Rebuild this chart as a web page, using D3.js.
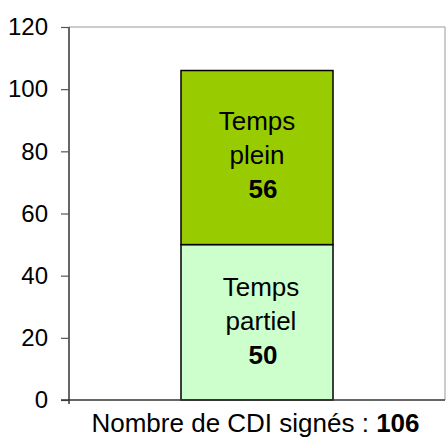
<!DOCTYPE html>
<html><head><meta charset="utf-8">
<script src="https://cdn.jsdelivr.net/npm/d3@7"></script>
<style>body{margin:0;background:#fff}svg{display:block;font-family:"Liberation Sans",Arial,sans-serif}</style>
</head><body>
<script>
const categories = ["Nombre de CDI signés"];
const seriesNames = ["Temps partiel", "Temps plein"];
const partiel = [50];
const plein = [56];
const totals = [106];
const yTicks = [0, 20, 40, 60, 80, 100, 120];
const colors = ["#CCFFCC", "#99CC00"];
const labelLines = [["Temps", "partiel"], ["Temps", "plein"]];

const W = 446, H = 440;
const m = {left: 69, right: 1, top: 27, bottom: 40};
const svg = d3.select("body").append("svg").attr("width", W).attr("height", H);

const x = d3.scaleBand().domain(categories).range([m.left, W - m.right]).paddingInner(0).paddingOuter(0.3);
const y = d3.scaleLinear().domain([0, 120]).range([H - m.bottom, m.top]);

// plot frame (gray)
svg.append("line").attr("x1", m.left).attr("x2", W - m.right).attr("y1", y(120)).attr("y2", y(120)).attr("stroke", "#999").attr("stroke-width", 1.2);
svg.append("line").attr("x1", W - m.right).attr("x2", W - m.right).attr("y1", y(120)).attr("y2", y(0)).attr("stroke", "#aaa").attr("stroke-width", 1.2);

const stack = d3.stack().keys([0, 1]).value((d, k) => k === 0 ? d.p : d.f);
const data = categories.map((c, i) => ({c, p: partiel[i], f: plein[i]}));
const layers = stack(data);

const bw = 152;
layers.forEach((layer, k) => {
  svg.selectAll(null).data(layer).enter().append("rect")
    .attr("x", d => x(d.data.c) + x.bandwidth() / 2 - bw / 2)
    .attr("width", bw)
    .attr("y", d => y(d[1]))
    .attr("height", d => y(d[0]) - y(d[1]))
    .attr("fill", colors[k])
    .attr("stroke", "#000").attr("stroke-width", 1.5);

  layer.forEach(d => {
    const cx = x(d.data.c) + x.bandwidth() / 2;
    const cy = (y(d[0]) + y(d[1])) / 2;
    const lh = 34;
    const val = d[1] - d[0];
    const lines = [...labelLines[k], String(val)];
    lines.forEach((t, j) => {
      svg.append("text").attr("x", cx + (j === 2 ? 6 : (k === 0 ? 4 : 0)))
        .attr("y", cy + (j - 1) * lh + (k === 1 ? 6 : 8))
        .attr("text-anchor", "middle").attr("font-size", 26)
        .attr("font-weight", j === 2 ? "bold" : "normal")
        .attr("fill", "#000").text(t);
    });
  });
});

// y axis
const yAxis = d3.axisLeft(y).tickValues(yTicks).tickSize(8).tickPadding(13);
const ga = svg.append("g").attr("transform", `translate(${m.left},0)`).call(yAxis);
ga.select(".domain").attr("stroke", "#333").attr("stroke-width", 1.5).attr("d", `M0,${y(0)+4}V${y(120)}`);
ga.selectAll(".tick line").attr("stroke", "#555").attr("stroke-width", 1.2);
ga.selectAll("text").attr("font-size", 24).attr("fill", "#000").attr("font-family", "Liberation Sans, Arial, sans-serif");

// x axis line
svg.append("line").attr("x1", m.left - 8).attr("x2", W - m.right).attr("y1", y(0)).attr("y2", y(0)).attr("stroke", "#333").attr("stroke-width", 1.5);

// x label
const xl = svg.append("text").attr("x", 255.5).attr("y", 432)
  .attr("text-anchor", "middle").attr("font-size", 26).attr("fill", "#000");
xl.append("tspan").text(categories[0] + " : ");
xl.append("tspan").attr("font-weight", "bold").text(String(totals[0]));
</script>
</body></html>
